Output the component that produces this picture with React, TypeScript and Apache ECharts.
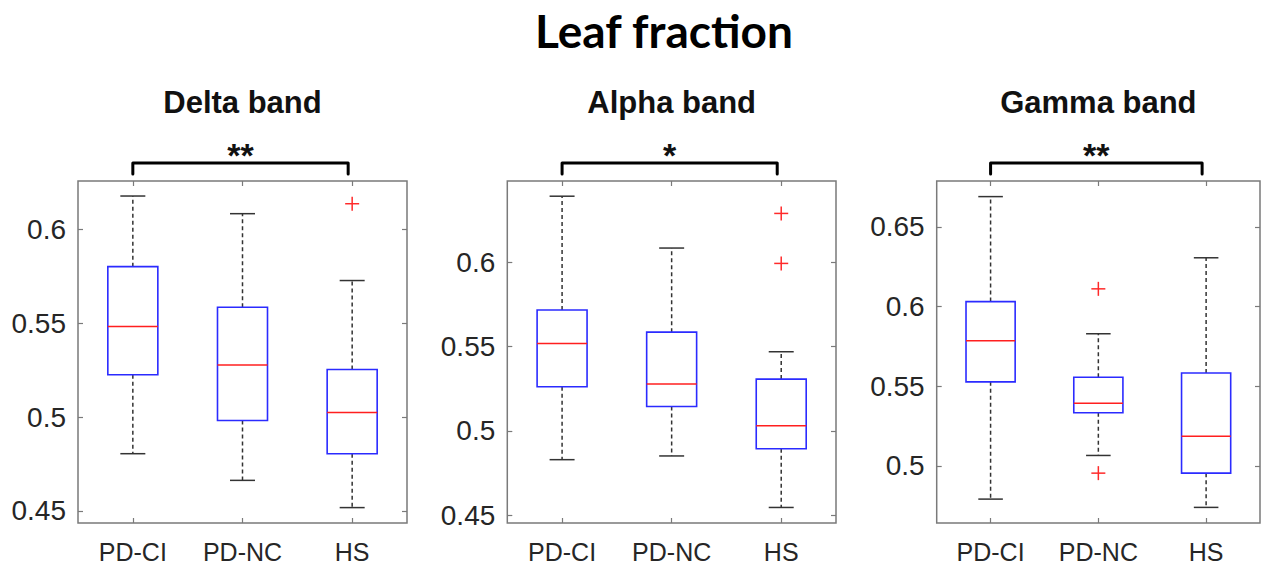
import React, { useEffect, useRef } from "react";
import * as echarts from "echarts";

// Groups on the x axis
const categories = ["PD-CI", "PD-NC", "HS"];

// Panel headings and significance marks between PD-CI and HS
const panelTitles = ["Delta band", "Alpha band", "Gamma band"];
const significance = ["**", "*", "**"];

// Box statistics per group: [lower whisker, Q1, median, Q3, upper whisker]
const deltaBoxes = [
  [0.4805, 0.5225, 0.5482, 0.5801, 0.6177],
  [0.4663, 0.4982, 0.5277, 0.5585, 0.6083],
  [0.4518, 0.4805, 0.5024, 0.5253, 0.5727],
];
const alphaBoxes = [
  [0.483, 0.5262, 0.5518, 0.5716, 0.639],
  [0.4852, 0.5145, 0.5278, 0.5585, 0.6083],
  [0.4547, 0.4895, 0.5031, 0.5307, 0.5469],
];
const gammaBoxes = [
  [0.4791, 0.5527, 0.5785, 0.6031, 0.669],
  [0.5065, 0.5333, 0.5393, 0.5556, 0.5829],
  [0.4739, 0.4954, 0.5186, 0.5583, 0.6306],
];

// Outliers: [group index, value]
const deltaOutliers = [[2, 0.6136]];
const alphaOutliers = [
  [2, 0.6288],
  [2, 0.5992],
];
const gammaOutliers = [
  [1, 0.6111],
  [1, 0.4954],
];

// Y-axis tick values and visible ranges
const deltaTicks = [0.45, 0.5, 0.55, 0.6];
const alphaTicks = [0.45, 0.5, 0.55, 0.6];
const gammaTicks = [0.5, 0.55, 0.6, 0.65];
const deltaRange = [0.4436, 0.6257];
const alphaRange = [0.4455, 0.648];
const gammaRange = [0.4641, 0.6788];

const panels = [
  { boxes: deltaBoxes, outliers: deltaOutliers, ticks: deltaTicks, range: deltaRange },
  { boxes: alphaBoxes, outliers: alphaOutliers, ticks: alphaTicks, range: alphaRange },
  { boxes: gammaBoxes, outliers: gammaOutliers, ticks: gammaTicks, range: gammaRange },
];

const gridRects = [
  { left: 78, width: 329 },
  { left: 507.3, width: 328.7 },
  { left: 936.7, width: 323.3 },
];
const GRID_TOP = 181;
const GRID_HEIGHT = 342.3;

const FRAME = "#7a7a7a";
const TEXT = "#262626";
const FONT = "Liberation Sans";

export default function App() {
  const ref = useRef<HTMLDivElement>(null);

  useEffect(() => {
    if (!ref.current) return;
    const chart = echarts.init(ref.current, null, { renderer: "svg" });

    const grids: any[] = [];
    const xAxes: any[] = [];
    const yAxes: any[] = [];
    const series: any[] = [];
    const titles: any[] = [
      {
        text: "Leaf fraction",
        left: 664,
        top: 7,
        padding: 0,
        textAlign: "center",
        textStyle: { fontFamily: "Lato", fontWeight: "bold", fontSize: 46, color: "#000" },
      },
    ];

    panels.forEach((p, k) => {
      const g = gridRects[k];
      grids.push({
        left: g.left,
        top: GRID_TOP,
        width: g.width,
        height: GRID_HEIGHT,
        show: true,
        borderColor: FRAME,
        borderWidth: 1.5,
        backgroundColor: "transparent",
      });
      titles.push({
        text: panelTitles[k],
        left: g.left + g.width / 2,
        top: 87,
        padding: 0,
        textAlign: "center",
        textStyle: { fontFamily: FONT, fontWeight: "bold", fontSize: 31, color: "#111" },
      });

      // bottom and top category axes (ticks inside, both sides)
      xAxes.push({
        type: "category",
        gridIndex: k,
        data: categories,
        position: "bottom",
        axisLine: { show: false },
        axisTick: { show: true, inside: true, alignWithLabel: true, length: 5, lineStyle: { color: FRAME, width: 1.2 } },
        axisLabel: { fontFamily: FONT, fontSize: 25, color: TEXT, margin: 16 },
        splitLine: { show: false },
      });
      xAxes.push({
        type: "category",
        gridIndex: k,
        data: categories,
        position: "top",
        axisLine: { show: false },
        axisTick: { show: true, inside: true, alignWithLabel: true, length: 5, lineStyle: { color: FRAME, width: 1.2 } },
        axisLabel: { show: false },
        splitLine: { show: false },
      });
      // left and right value axes
      yAxes.push({
        type: "value",
        gridIndex: k,
        min: p.range[0],
        max: p.range[1],
        position: "left",
        axisLine: { show: false },
        axisTick: { show: true, inside: true, length: 5, customValues: p.ticks, lineStyle: { color: FRAME, width: 1.2 } },
        axisLabel: { fontFamily: FONT, fontSize: 28, color: TEXT, margin: 12, customValues: p.ticks },
        splitLine: { show: false },
      });
      yAxes.push({
        type: "value",
        gridIndex: k,
        min: p.range[0],
        max: p.range[1],
        position: "right",
        axisLine: { show: false },
        axisTick: { show: true, inside: true, length: 5, customValues: p.ticks, lineStyle: { color: FRAME, width: 1.2 } },
        axisLabel: { show: false },
        splitLine: { show: false },
      });

      const xi = k * 2;
      const yi = k * 2;

      // boxes with dashed whiskers, caps and red medians
      series.push({
        type: "custom",
        xAxisIndex: xi,
        yAxisIndex: yi,
        encode: { x: 0, y: [1, 2, 3, 4, 5] },
        data: p.boxes.map((b, i) => [i, ...b]),
        renderItem: (params: any, api: any) => {
          const i = api.value(0);
          const low = api.value(1);
          const q1 = api.value(2);
          const med = api.value(3);
          const q3 = api.value(4);
          const high = api.value(5);
          const band = api.size([1, 0])[0];
          const cx = api.coord([i, med])[0];
          const y = (v: number) => api.coord([i, v])[1];
          const hw = band * 0.228;
          const cw = band * 0.114;
          const whisker = { stroke: "#333", lineWidth: 1.5, lineDash: [4, 3] };
          const solid = { stroke: "#333", lineWidth: 1.5 };
          return {
            type: "group",
            children: [
              { type: "line", shape: { x1: cx, y1: y(q3), x2: cx, y2: y(high) }, style: whisker },
              { type: "line", shape: { x1: cx, y1: y(q1), x2: cx, y2: y(low) }, style: whisker },
              { type: "line", shape: { x1: cx - cw, y1: y(high), x2: cx + cw, y2: y(high) }, style: solid },
              { type: "line", shape: { x1: cx - cw, y1: y(low), x2: cx + cw, y2: y(low) }, style: solid },
              {
                type: "rect",
                shape: { x: cx - hw, y: y(q3), width: hw * 2, height: y(q1) - y(q3) },
                style: { fill: "none", stroke: "#2b2bff", lineWidth: 1.6 },
              },
              {
                type: "line",
                shape: { x1: cx - hw, y1: y(med), x2: cx + hw, y2: y(med) },
                style: { stroke: "#ff1f1f", lineWidth: 1.6 },
              },
            ],
          };
        },
      });

      // outliers drawn as red plus signs
      series.push({
        type: "custom",
        xAxisIndex: xi,
        yAxisIndex: yi,
        encode: { x: 0, y: 1 },
        data: p.outliers,
        renderItem: (params: any, api: any) => {
          const [px, py] = api.coord([api.value(0), api.value(1)]);
          const s = 7;
          const st = { stroke: "#ff2a2a", lineWidth: 1.5 };
          return {
            type: "group",
            children: [
              { type: "line", shape: { x1: px - s, y1: py, x2: px + s, y2: py }, style: st },
              { type: "line", shape: { x1: px, y1: py - s, x2: px, y2: py + s }, style: st },
            ],
          };
        },
      });

      // significance bracket between first and last group
      series.push({
        type: "custom",
        xAxisIndex: xi,
        yAxisIndex: yi,
        clip: false,
        encode: { x: 0, y: 1 },
        data: [[0, p.range[1], categories.length - 1, significance[k]]],
        renderItem: (params: any, api: any) => {
          const top = params.coordSys.y;
          const x0 = api.coord([0, p.range[1]])[0];
          const x1 = api.coord([categories.length - 1, p.range[1]])[0] - 4;
          const barY = top - 18;
          const legY = top - 7;
          return {
            type: "group",
            children: [
              {
                type: "polyline",
                shape: { points: [[x0, legY], [x0, barY], [x1, barY], [x1, legY]] },
                style: { stroke: "#000", lineWidth: 3, fill: "none", lineJoin: "round", lineCap: "round" },
              },
              {
                type: "text",
                style: {
                  text: significance[k],
                  x: (x0 + x1) / 2,
                  y: barY + 9,
                  align: "center",
                  verticalAlign: "bottom",
                  font: `bold 34px ${FONT}`,
                  fill: "#111",
                },
              },
            ],
          };
        },
      });
    });

    chart.setOption({
      animation: false,
      backgroundColor: "#fff",
      title: titles,
      grid: grids,
      xAxis: xAxes,
      yAxis: yAxes,
      series,
    });

    return () => chart.dispose();
  }, []);

  return (
    <div
      ref={ref}
      style={{ position: "absolute", left: 0, top: 0, width: 1262, height: 564 }}
    />
  );
}
